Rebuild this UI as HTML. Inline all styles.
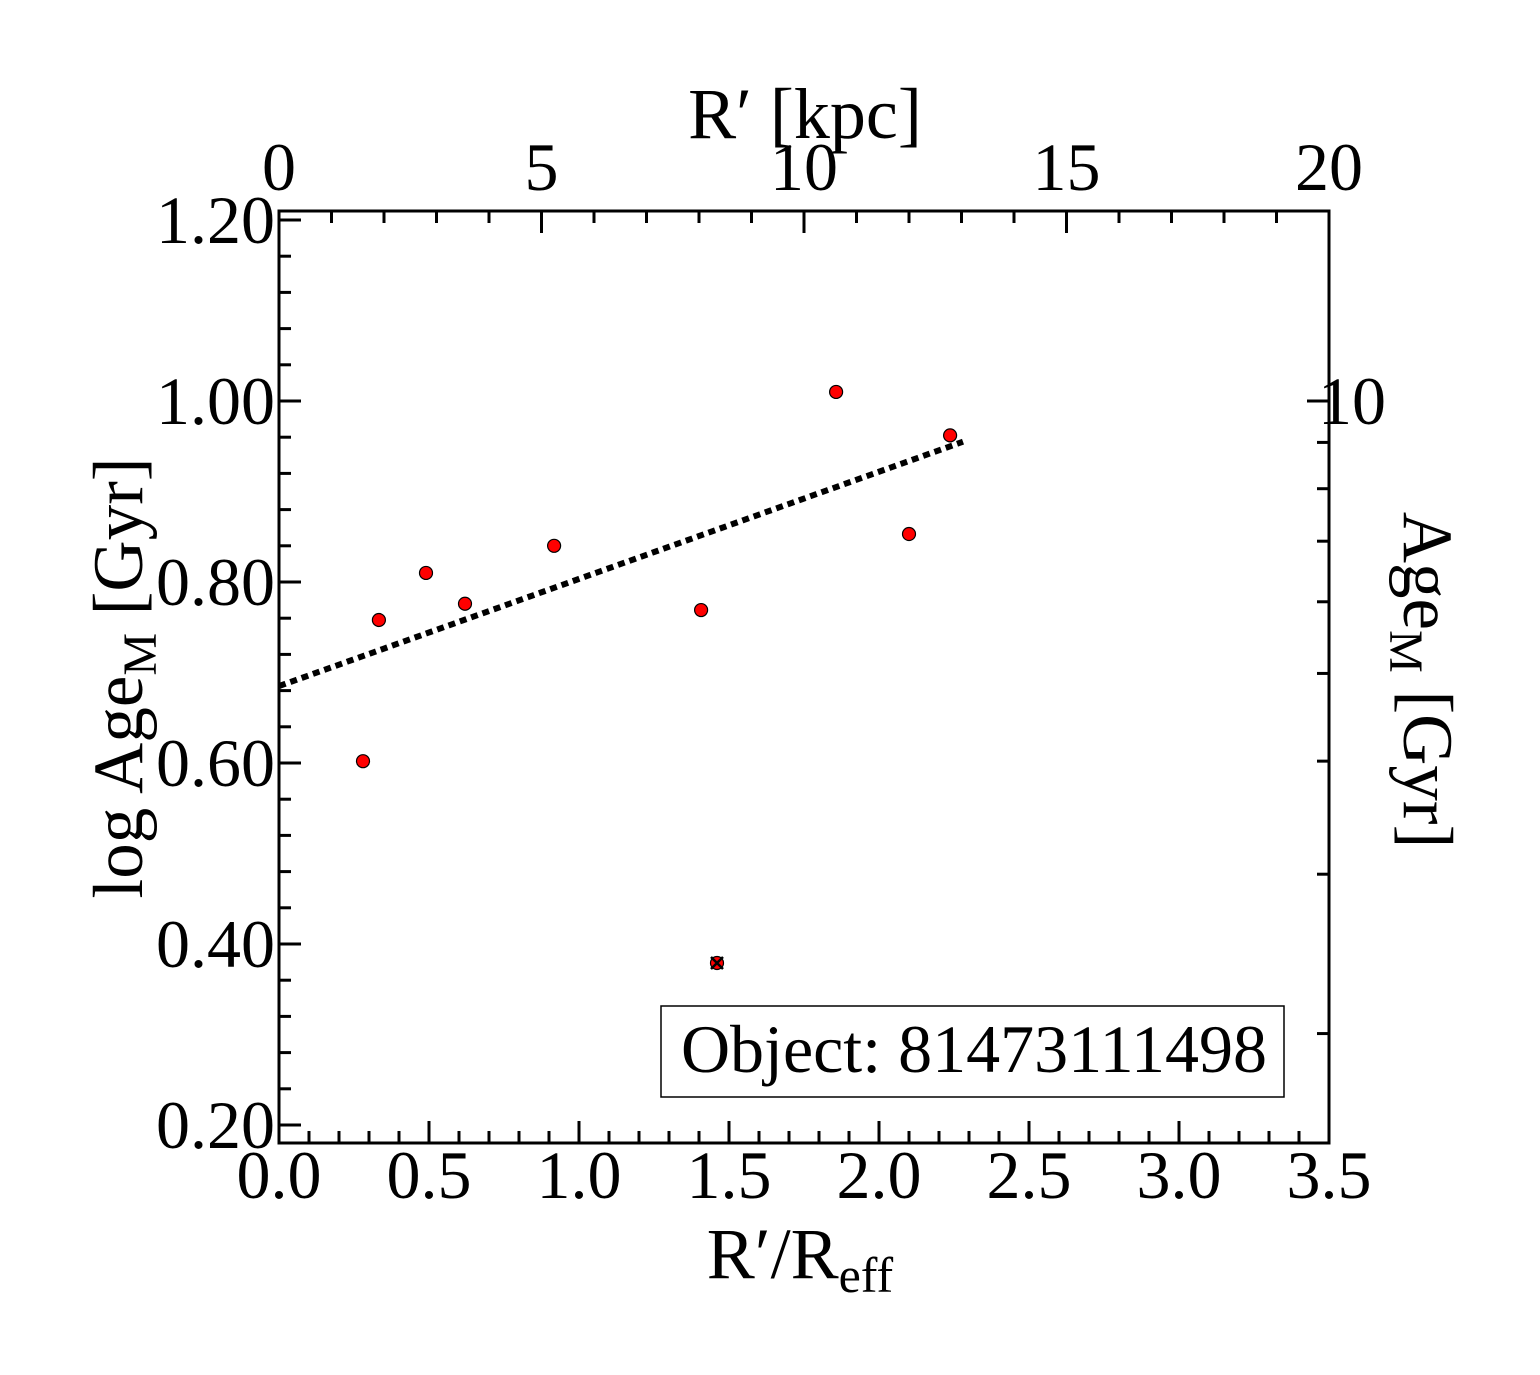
<!DOCTYPE html>
<html><head><meta charset="utf-8"><style>
html,body{margin:0;padding:0;background:#fff;}
svg{display:block;font-family:"Liberation Serif",serif;}
</style></head><body>
<svg id="chart" width="1540" height="1375" viewBox="0 0 1540 1375" xmlns="http://www.w3.org/2000/svg">
<g id="ticks"></g>
<g id="marks"></g>
<rect x="279" y="211" width="1050" height="932" fill="none" stroke="#000" stroke-width="3"/>
<text x="805" y="138" font-size="72" text-anchor="middle">R′ [kpc]</text>
<text x="800" y="1278" font-size="72" text-anchor="middle">R′/R<tspan font-size="50" dy="14">eff</tspan></text>
<text transform="translate(142,678) rotate(-90)" font-size="71" text-anchor="middle">log Age<tspan font-size="48" dy="14">M</tspan><tspan dy="-14"> [Gyr]</tspan></text>
<text transform="translate(1404,680) rotate(90)" font-size="71" text-anchor="middle">Age<tspan font-size="48" dy="14">M</tspan><tspan dy="-14"> [Gyr]</tspan></text>
<g>
<rect x="661" y="1006" width="623" height="91" fill="#fff" stroke="#000" stroke-width="1.5"/>
<text x="974" y="1072" font-size="68" text-anchor="middle">Object: 81473111498</text>
</g>
</svg>
<script>
const xTicks = [0.0,0.5,1.0,1.5,2.0,2.5,3.0,3.5];
const xTickLabels = ["0.0","0.5","1.0","1.5","2.0","2.5","3.0","3.5"];
const yTicks = [0.2,0.4,0.6,0.8,1.0,1.2];
const yTickLabels = ["0.20","0.40","0.60","0.80","1.00","1.20"];
const kpcTicks = [0,5,10,15,20];
const kpcTickLabels = ["0","5","10","15","20"];
const ageTicks = [2,3,4,5,6,7,8,9,10];
const ageTickLabels = ["","","","","","","","","10"];
const ptX = [0.28,0.333,0.49,0.62,0.917,1.407,1.46,1.857,2.10,2.237];
const ptY = [0.602,0.758,0.810,0.776,0.840,0.769,0.379,1.010,0.853,0.962];
const excluded = [false,false,false,false,false,false,true,false,false,false];
const fitX = [0.0,2.28];
const fitY = [0.685,0.955];

const X0=279,X1=1329,Y0=211,Y1=1143;
const xs=v=>X0+(v-0)/3.5*(X1-X0);
const ys=v=>401-(v-1.0)*905;
const ks=v=>X0+v/20*(X1-X0);
const NS="http://www.w3.org/2000/svg";
const tg=document.getElementById('ticks'), mg=document.getElementById('marks');
function mk(tag,attrs,parent){const e=document.createElementNS(NS,tag);for(const k in attrs)e.setAttribute(k,attrs[k]);parent.appendChild(e);return e;}
function line(x1,y1,x2,y2,w){return mk('line',{x1,y1,x2,y2,stroke:'#000','stroke-width':w},tg);}
for(let i=0;i<=35;i++){const v=i/10,x=xs(v),maj=i%5===0;line(x,Y1,x,Y1-(maj?22:12),3);}
xTicks.forEach((v,i)=>{const t=mk('text',{x:xs(v),y:1198,'font-size':68,'text-anchor':'middle'},tg);t.textContent=xTickLabels[i];

});
for(let i=0;i<=20;i++){const x=ks(i),maj=i%5===0;line(x,Y0,x,Y0+(maj?22:12),3);}
kpcTicks.forEach((v,i)=>{const t=mk('text',{x:ks(v),y:190,'font-size':68,'text-anchor':'middle'},tg);t.textContent=kpcTickLabels[i];

});
for(let i=0;i<=25;i++){const v=0.2+i*0.04;const y=ys(v);if(y<Y0-1||y>Y1+1)continue;const maj=i%5===0;line(X0,y,X0+(maj?22:12),y,3);}
yTicks.forEach((v,i)=>{const t=mk('text',{x:275,y:ys(v)+23,'font-size':68,'text-anchor':'end'},tg);t.textContent=yTickLabels[i];

});
ageTicks.forEach((a,i)=>{const y=ys(Math.log10(a));if(y<Y0||y>Y1)return;line(X1,y,X1-(a===10?22:12),y,3);
if(ageTickLabels[i]){const t=mk('text',{x:1318,y:y+23,'font-size':68},tg);t.textContent=ageTickLabels[i];

}});
const fl=mk('line',{x1:xs(fitX[0]),y1:ys(fitY[0]),x2:xs(fitX[1]),y2:ys(fitY[1]),stroke:'#000','stroke-width':6,'stroke-dasharray':'7 5'},mg);


ptX.forEach((v,i)=>{const cx=xs(v),cy=ys(ptY[i]);
const c=mk('circle',{cx,cy,r:6.5,fill:'#f00',stroke:'#000','stroke-width':1.2},mg);


if(excluded[i]){const g=mk('path',{d:`M${cx-6},${cy-6}L${cx+6},${cy+6}M${cx-6},${cy+6}L${cx+6},${cy-6}`,stroke:'#000','stroke-width':2.5},mg);

}
});
</script>
</body></html>
